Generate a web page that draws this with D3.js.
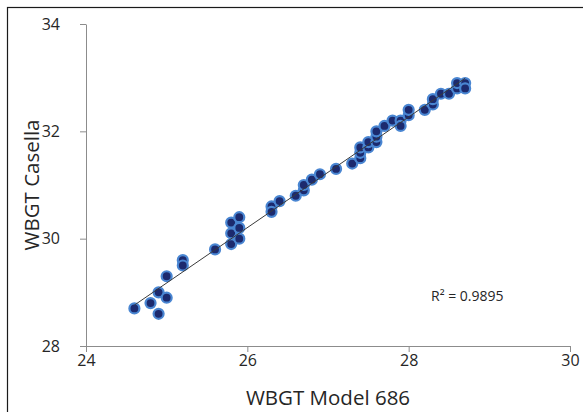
<!DOCTYPE html>
<html>
<head>
<meta charset="utf-8">
<script src="https://cdn.jsdelivr.net/npm/d3@7"></script>
<style>
  body { margin: 0; background: #fff; }
  svg text { font-family: "Open Sans", sans-serif; fill: #262626; }
</style>
</head>
<body>
<svg id="chart" width="583" height="412"></svg>
<script>
// WBGT readings: Model 686 (x) vs Casella (y)
const model686 = [24.6, 24.8, 24.9, 24.9, 25.0, 25.0, 25.2, 25.2, 25.6, 25.8, 25.8, 25.8,
  25.9, 25.9, 25.9, 26.3, 26.3, 26.4, 26.6, 26.7, 26.7, 26.8, 26.9, 27.1, 27.3, 27.4,
  27.4, 27.4, 27.5, 27.5, 27.6, 27.6, 27.6, 27.7, 27.8, 27.9, 27.9, 28.0, 28.0, 28.2,
  28.3, 28.3, 28.4, 28.5, 28.6, 28.6, 28.7, 28.7];
const casella = [28.7, 28.8, 29.0, 28.6, 28.9, 29.3, 29.6, 29.5, 29.8, 30.3, 30.1, 29.9,
  30.4, 30.2, 30.0, 30.6, 30.5, 30.7, 30.8, 30.9, 31.0, 31.1, 31.2, 31.3, 31.4, 31.5,
  31.6, 31.7, 31.7, 31.8, 31.8, 31.9, 32.0, 32.1, 32.2, 32.2, 32.1, 32.3, 32.4, 32.4,
  32.5, 32.6, 32.7, 32.7, 32.8, 32.9, 32.9, 32.8];
const xTicks = [24, 26, 28, 30];
const yTicks = [28, 30, 32, 34];
const r2Label = "R² = 0.9895";

const width = 583, height = 412;
const margin = {top: 24, right: 13, bottom: 66, left: 86};

const svg = d3.select("#chart");
const data = model686.map((x, i) => ({x, y: casella[i]}));

svg.append("rect")
  .attr("x", 7.5).attr("y", 7.5)
  .attr("width", 620).attr("height", 420)
  .attr("fill", "none").attr("stroke", "#1a1a1a").attr("stroke-width", 1.2);

const x = d3.scaleLinear().domain([24, 30]).range([margin.left, width - margin.right]);
const y = d3.scaleLinear().domain([28, 34]).range([height - margin.bottom, margin.top]);

const xAxis = svg.append("g")
  .attr("transform", `translate(0,${y(28)})`)
  .call(d3.axisBottom(x).tickValues(xTicks).tickFormat(d3.format("d"))
    .tickSize(6).tickPadding(3).tickSizeOuter(0));
const yAxis = svg.append("g")
  .attr("transform", `translate(${x(24)},0)`)
  .call(d3.axisLeft(y).tickValues(yTicks).tickFormat(d3.format("d"))
    .tickSize(6).tickPadding(20).tickSizeOuter(0));

[xAxis, yAxis].forEach(g => {
  g.selectAll("path, line").attr("stroke", "#8c8c8c");
  g.selectAll("text").attr("font-size", 16).attr("fill", "#262626");
});

// least squares trend line
const mx = d3.mean(model686), my = d3.mean(casella);
const slope = d3.sum(data, d => (d.x - mx) * (d.y - my)) / d3.sum(data, d => (d.x - mx) ** 2);
const intercept = my - slope * mx;
const [x0, x1] = d3.extent(model686);

const defs = svg.append("defs");
defs.append("filter").attr("id", "soft")
  .append("feGaussianBlur").attr("stdDeviation", 0.6);

svg.append("g").attr("filter", "url(#soft)")
  .selectAll("circle")
  .data(data)
  .join("circle")
  .attr("cx", d => x(d.x))
  .attr("cy", d => y(d.y))
  .attr("r", 5)
  .attr("fill", "#1c2a6e")
  .attr("stroke", "#4a86d2")
  .attr("stroke-width", 2.2);

svg.append("line")
  .attr("x1", x(x0)).attr("y1", y(slope * x0 + intercept))
  .attr("x2", x(x1)).attr("y2", y(slope * x1 + intercept))
  .attr("stroke", "#3a3a3a").attr("stroke-width", 1);

svg.append("text")
  .attr("x", 431).attr("y", 301)
  .attr("font-size", 14)
  .text(r2Label);

svg.append("text")
  .attr("x", (x(24) + x(30)) / 2).attr("y", 405)
  .attr("text-anchor", "middle")
  .attr("font-size", 20.5)
  .text("WBGT Model 686");

svg.append("text")
  .attr("transform", `translate(39,${(y(28) + y(34)) / 2}) rotate(-90)`)
  .attr("text-anchor", "middle")
  .attr("font-size", 20.5)
  .text("WBGT Casella");
</script>
</body>
</html>
